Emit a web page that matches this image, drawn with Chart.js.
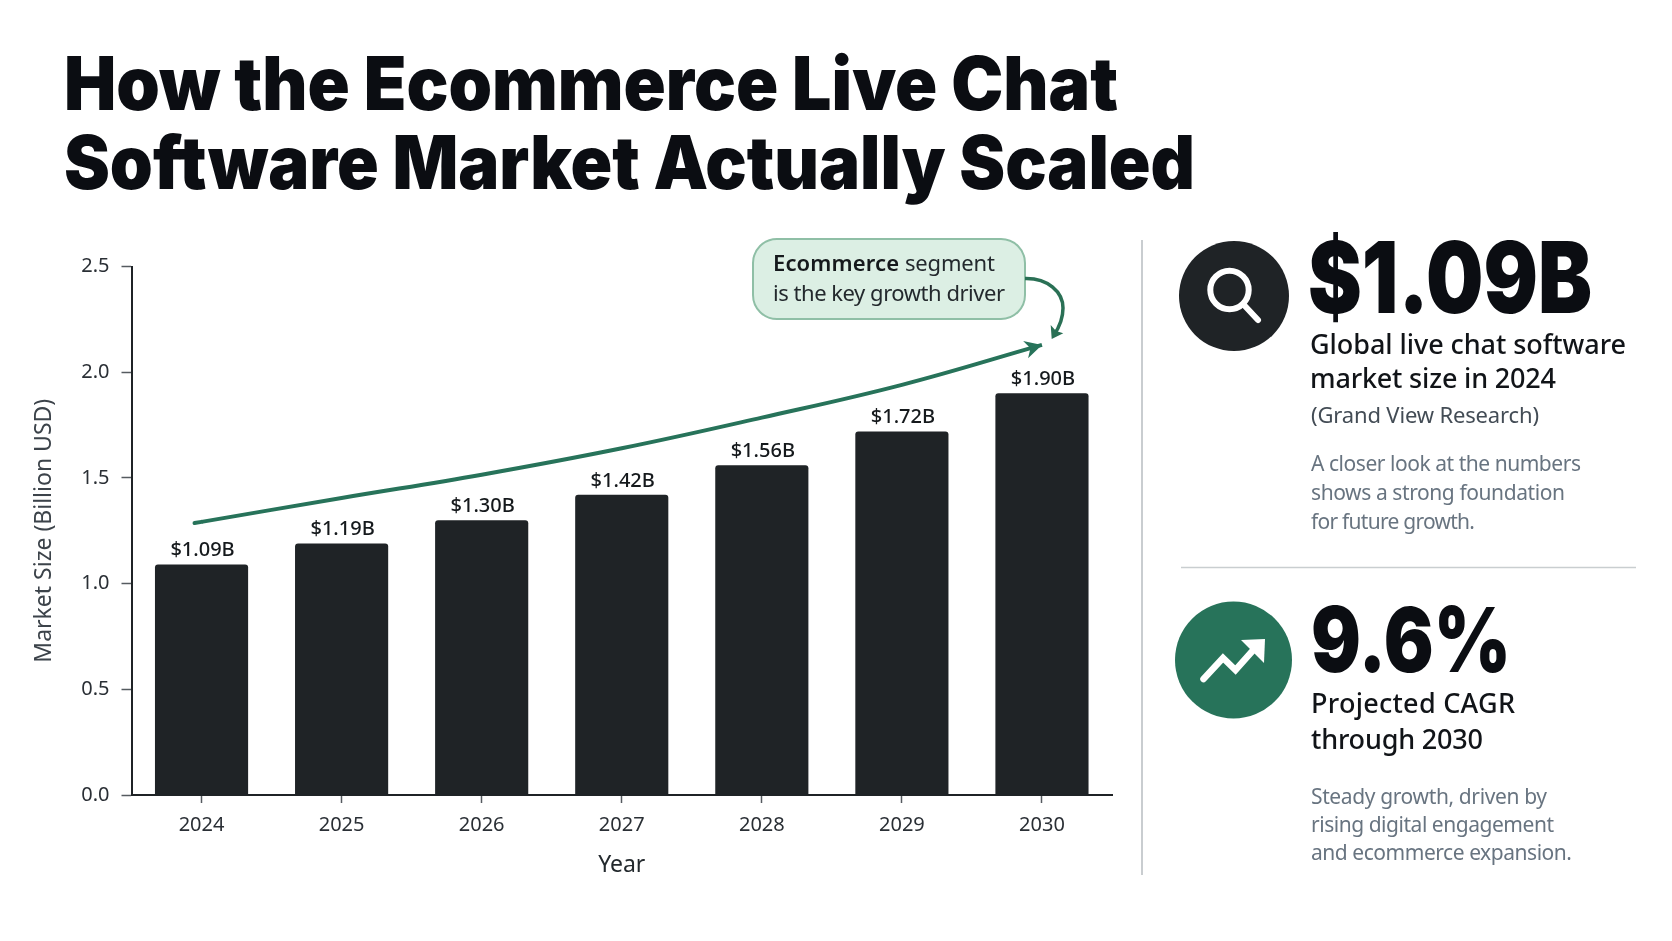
<!DOCTYPE html>
<html lang="en">
<head>
<meta charset="utf-8">
<title>How the Ecommerce Live Chat Software Market Actually Scaled</title>
<script src="https://cdn.jsdelivr.net/npm/chart.js@4"></script>
<style>
html,body{margin:0;padding:0;background:#fff;width:1672px;height:941px;overflow:hidden}
#c{position:absolute;left:0;top:0}
svg{position:absolute;left:0;top:0;pointer-events:none}
text{font-family:"Noto Sans",sans-serif}
.big{font-family:"Inter",sans-serif;font-weight:900;fill:#0b0d12}
.lead{font-size:27px;font-weight:500;fill:#111418}
.src{font-size:22px;fill:#434c55}
.para{font-size:21px;fill:#687480}
</style>
</head>
<body>
<canvas id="c" width="1140" height="879"></canvas>
<svg width="1672" height="941" viewBox="0 0 1672 941" xmlns="http://www.w3.org/2000/svg">
  <text class="big" x="64" y="110" font-size="74" textLength="1054" lengthAdjust="spacingAndGlyphs">How the Ecommerce Live Chat</text>
  <text class="big" x="64" y="189" font-size="74" textLength="1131" lengthAdjust="spacingAndGlyphs">Software Market Actually Scaled</text>

  <rect x="753" y="239" width="272" height="80" rx="24" fill="#dcefe4" stroke="#8fbfa6" stroke-width="2"/>
  <text x="773" y="271" font-size="22" font-weight="600" fill="#15191c" textLength="126">Ecommerce</text>
  <text x="905" y="271" font-size="22" fill="#23292d" textLength="90">segment</text>
  <text x="773" y="301" font-size="22" fill="#23292d" textLength="232">is the key growth driver</text>
  <path d="M1025 278.5 C1048 278 1063 292 1063 308 C1063 320 1058 329 1054 335" fill="none" stroke="#2a7055" stroke-width="3.5"/>
  <polygon points="1051.7,339 1050.7,325 1056,331 1063.3,333.3" fill="#2a7055"/>

  <line x1="1142" y1="240" x2="1142" y2="875" stroke="#c9cdd0" stroke-width="2"/>
  <line x1="1181" y1="567.5" x2="1636" y2="567.5" stroke="#c9ced0" stroke-width="1.5"/>

  <circle cx="1234" cy="296" r="55" fill="#1f2326"/>
  <circle cx="1229.5" cy="290" r="19.2" fill="none" stroke="#fff" stroke-width="6"/>
  <line x1="1244" y1="305" x2="1258" y2="320" stroke="#fff" stroke-width="6" stroke-linecap="round"/>
  <text class="big" x="1308" y="313" font-size="99" textLength="284" lengthAdjust="spacingAndGlyphs">$1.09B</text>
  <text class="lead" x="1310" y="354" textLength="316">Global live chat software</text>
  <text class="lead" x="1310" y="388" textLength="246">market size in 2024</text>
  <text class="src" x="1311" y="423" textLength="228">(Grand View Research)</text>
  <text class="para" x="1311" y="471" textLength="270">A closer look at the numbers</text>
  <text class="para" x="1311" y="500" textLength="254">shows a strong foundation</text>
  <text class="para" x="1311" y="529" textLength="164">for future growth.</text>

  <circle cx="1233.5" cy="660" r="58.5" fill="#27735a"/>
  <polyline points="1203.5,679 1223,658 1235.5,670 1256,647" fill="none" stroke="#fff" stroke-width="6.5" stroke-linecap="round" stroke-linejoin="miter"/>
  <polygon points="1241,640 1265,639 1264,663" fill="#fff"/>
  <text class="big" x="1311" y="672" font-size="90" textLength="200" lengthAdjust="spacingAndGlyphs">9.6%</text>
  <text class="lead" x="1311" y="713" textLength="204">Projected CAGR</text>
  <text class="lead" x="1311" y="749" textLength="172">through 2030</text>
  <text class="para" x="1311" y="804" textLength="236">Steady growth, driven by</text>
  <text class="para" x="1311" y="832" textLength="243">rising digital engagement</text>
  <text class="para" x="1311" y="860" textLength="261">and ecommerce expansion.</text>
</svg>
<script>
const categories = ["2024","2025","2026","2027","2028","2029","2030"];
const marketSize = [1.09,1.19,1.30,1.42,1.56,1.72,1.90];
const barLabels = ["$1.09B","$1.19B","$1.30B","$1.42B","$1.56B","$1.72B","$1.90B"];
const trendLine = [1.292,1.405,1.515,1.640,1.785,1.940,2.129];
const axisTitleX = "Year";
const axisTitleY = "Market Size (Billion USD)";

const FONT = '"Noto Sans", sans-serif';
const GREEN = "#27735a";

const overlay = {
  id: "overlay",
  afterDatasetsDraw(chart) {
    const ctx = chart.ctx;
    const bars = chart.getDatasetMeta(1).data;
    ctx.save();
    ctx.font = "500 20px " + FONT;
    ctx.fillStyle = "#15191c";
    ctx.textAlign = "center";
    ctx.textBaseline = "middle";
    bars.forEach((b, i) => ctx.fillText(barLabels[i], b.x + 1, b.y - 14));
    const pts = chart.getDatasetMeta(0).data;
    // the trend line starts a little left of the first category centre
    ctx.strokeStyle = GREEN;
    ctx.lineWidth = 4;
    ctx.lineCap = "round";
    const s = (pts[1].y - pts[0].y) / (pts[1].x - pts[0].x);
    ctx.beginPath();
    ctx.moveTo(pts[0].x, pts[0].y);
    ctx.lineTo(pts[0].x - 7, pts[0].y - 7 * s);
    ctx.stroke();
    const p = pts[pts.length - 1];
    const a = Math.atan2(p.y - pts[pts.length - 2].y, p.x - pts[pts.length - 2].x);
    ctx.translate(p.x, p.y);
    ctx.rotate(a);
    ctx.fillStyle = GREEN;
    ctx.beginPath();
    ctx.moveTo(0, 0);
    ctx.lineTo(-17, -9);
    ctx.lineTo(-12, 0);
    ctx.lineTo(-17, 9);
    ctx.closePath();
    ctx.fill();
    ctx.restore();
  }
};

new Chart(document.getElementById("c"), {
  data: {
    labels: categories,
    datasets: [
      { type: "line", label: "Growth trend", data: trendLine, borderColor: GREEN, borderWidth: 4,
        pointRadius: 0, tension: 0.4, fill: false, order: 0 },
      { type: "bar", label: "Market size", data: marketSize, backgroundColor: "#1f2326",
        barPercentage: 0.665, categoryPercentage: 1,
        borderRadius: { topLeft: 3, topRight: 3 }, borderSkipped: "bottom", order: 1 }
    ]
  },
  options: {
    responsive: false,
    animation: false,
    devicePixelRatio: 1,
    layout: { padding: { top: 266.5, left: 0, right: 28, bottom: 0 } },
    plugins: { legend: { display: false }, tooltip: { enabled: false } },
    scales: {
      x: {
        afterFit(s) { s.height = 84; },
        grid: { offset: false, drawOnChartArea: false, tickLength: 8, tickColor: "#555b60", tickWidth: 1.5 },
        border: { color: "#1f2326", width: 2 },
        ticks: { font: { family: FONT, size: 20 }, color: "#2a2f35", padding: 10, maxRotation: 0 },
        title: { display: true, text: axisTitleX, font: { family: FONT, size: 23 }, color: "#23292d", padding: 0 }
      },
      y: {
        min: 0, max: 2.5,
        afterFit(s) { s.width = 131.5; },
        grid: { drawOnChartArea: false, tickLength: 10, tickColor: "#555b60", tickWidth: 1.5 },
        border: { color: "#1f2326", width: 2 },
        ticks: { stepSize: 0.5, callback: v => v.toFixed(1), font: { family: FONT, size: 20 }, color: "#2a2f35", padding: 12 },
        title: { display: true, text: axisTitleY, font: { family: FONT, size: 23 }, color: "#3c434a", padding: { top: 31, bottom: 0 } }
      }
    }
  },
  plugins: [overlay]
});
</script>
</body>
</html>
